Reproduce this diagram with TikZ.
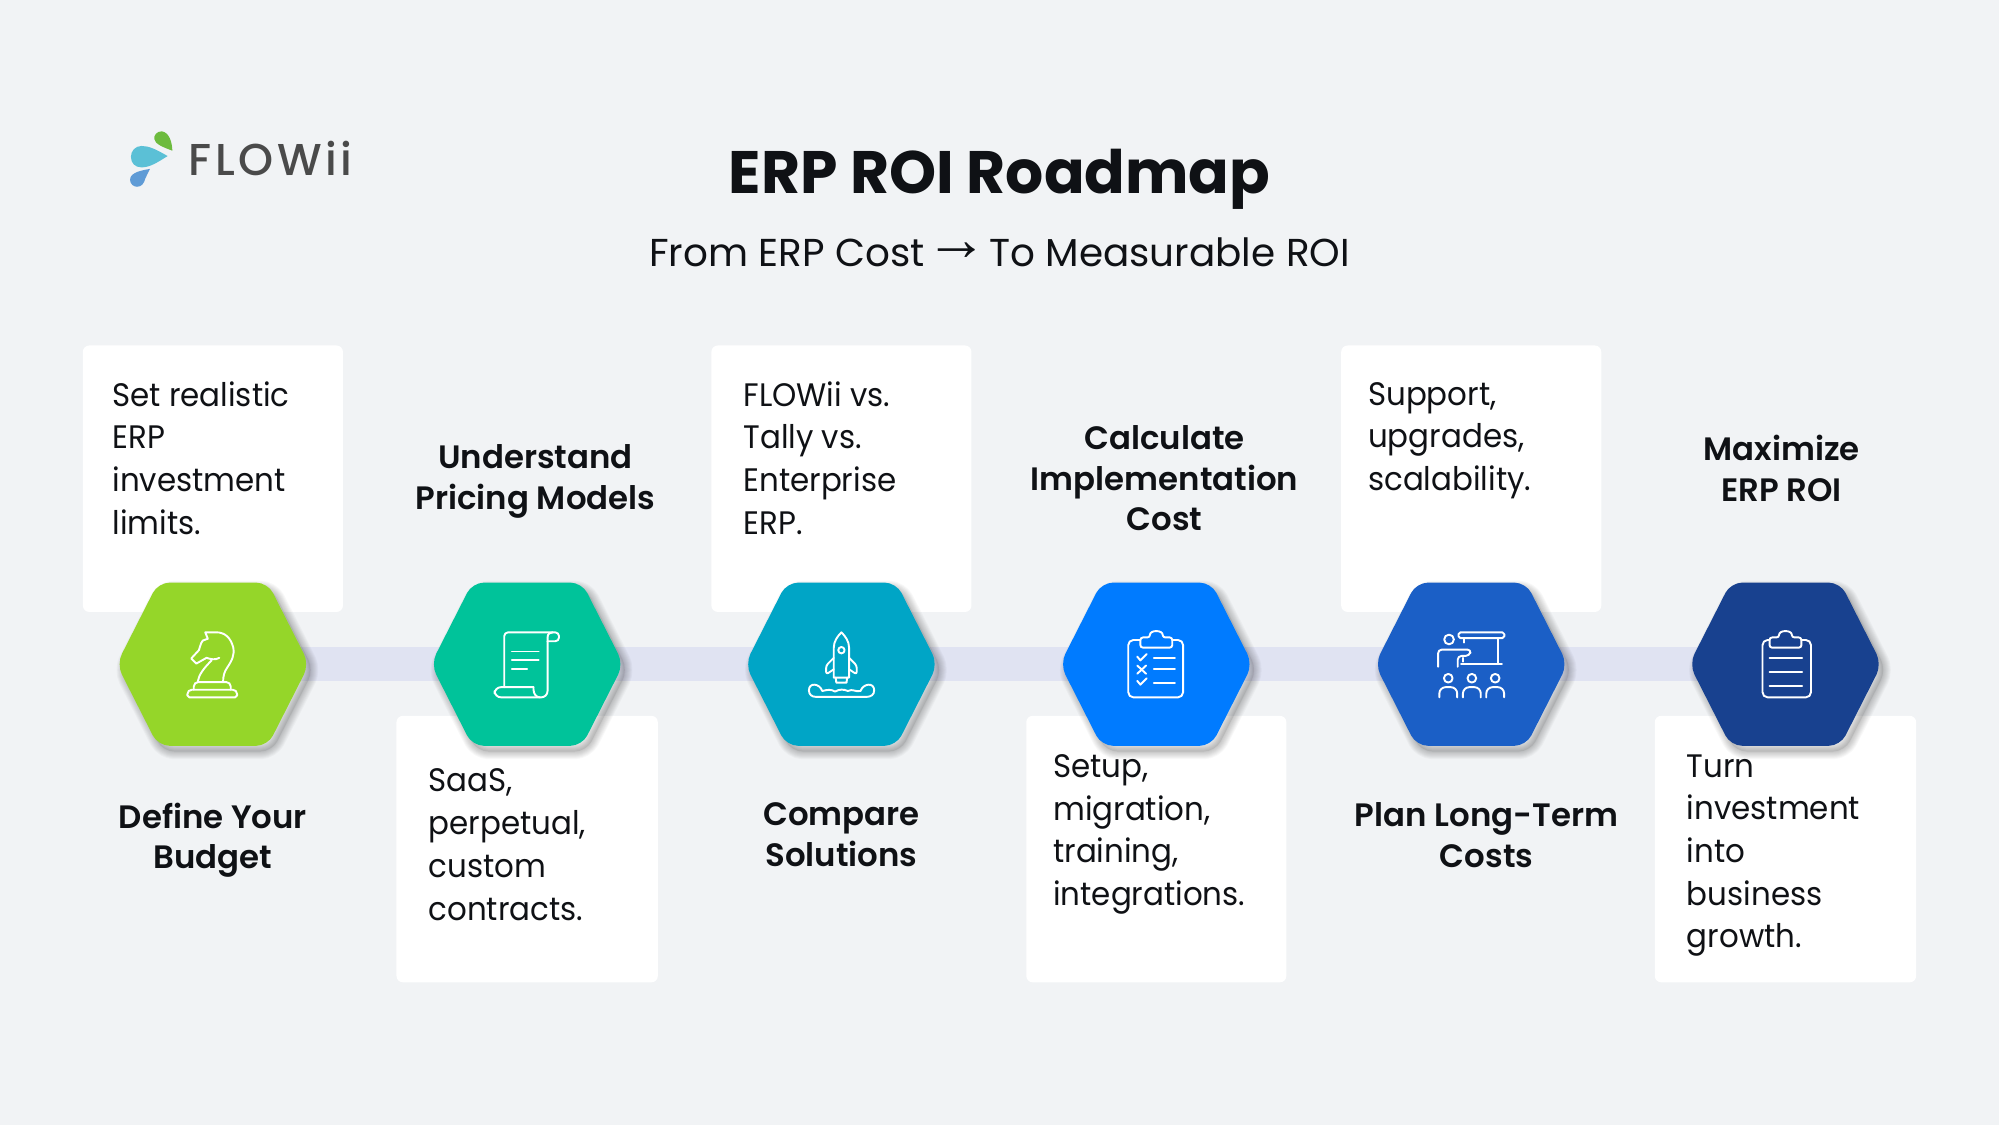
\documentclass[tikz,border=0pt]{standalone}
\usepackage{fontspec}
\setmainfont{Poppins}
\newfontfamily\arrowfont{Liberation Sans}
\newfontfamily\bodyf[FakeStretch=0.95]{Poppins}
\newfontfamily\semib{Poppins SemiBold}
\newfontfamily\logof[LetterSpace=8]{Poppins Medium}
\definecolor{pagebg}{HTML}{F1F3F5}
\definecolor{barc}{HTML}{E0E3F2}
\definecolor{inkc}{HTML}{0F1115}
\definecolor{hexa}{HTML}{95D629}
\definecolor{hexb}{HTML}{00C39A}
\definecolor{hexc}{HTML}{00A5C6}
\definecolor{hexd}{HTML}{007BFF}
\definecolor{hexe}{HTML}{1B5FC6}
\definecolor{hexf}{HTML}{18418F}
\newcommand\hexp{(-43,-64) -- (43,-64) -- (75.5,0) -- (43,64) -- (-43,64) -- (-75.5,0) -- cycle}
\newcommand\clipp{(-12.5,-13) -- (-12.5,-21) -- (-5,-21) .. controls (-5,-27) and (5,-27) .. (5,-21) -- (12.5,-21) -- (12.5,-13) -- cycle}
\tikzset{
  card/.style={fill=white,rounded corners=5pt,draw=none},
  barline/.style={draw=barc,line width=27pt},
  icon/.style={draw=white,line width=1.5pt,line cap=round,line join=round},
  body/.style={anchor=north west,inner sep=0pt,align=left,text=inkc,font=\bodyf\fontsize{25.5}{33.5}\selectfont,execute at begin node=\rule{0pt}{20pt}},
  head/.style={anchor=north,inner sep=0pt,align=center,text=inkc,font=\semib\fontsize{25.4}{32}\selectfont,execute at begin node=\rule{0pt}{20pt}},
  knight/.pic={
    \draw[icon,rounded corners=1.5pt] (-20,26) -- (19,26) -- (19,22) -- (17,20) -- (-18,20) -- (-20,22) -- cycle;
    \draw[icon,rounded corners=1.5pt] (-15,20) -- (-15,16) -- (-13,14) -- (12,14) -- (14,16) -- (14,20);
    \draw[icon] (-12,14) .. controls (-11,8) and (-7,3) .. (-1,-3);
    \draw[icon] (8,14) .. controls (8,9) and (9,6) .. (11,3) .. controls (15,-3) and (17,-7) .. (16,-13) .. controls (14,-21) and (9,-25) .. (3,-25) -- (-6,-25) -- (-4,-20) -- (-8,-18.5) .. controls (-10,-16) and (-10,-13) .. (-11,-11) -- (-17,-4.5) -- (-13,-0.5) -- (-5,-5) .. controls (-2,-4) and (2,-3) .. (5,-5);
  },
  scrollic/.pic={
    \draw[icon,rounded corners=3pt] (-18,18) -- (-18,-25) -- (25,-25) -- (25,-18) -- (16,-18);
    \draw[icon] (16,-18) -- (16,-21) .. controls (16,-24) and (18,-25) .. (20,-25);
    \draw[icon,rounded corners=5pt] (16,-18) -- (16,26) -- (-25.5,26) -- (-25.5,18) -- (5,18);
    \draw[icon] (5,18) -- (5,20) .. controls (5,23) and (7,26) .. (10,26);
    \draw[icon] (-12,-10) -- (9,-10) (-12,-3) -- (9,-3) (-12,3.5) -- (0,3.5);
  },
  rocketic/.pic={
    \draw[icon] (-6,10.5) -- (-6,-13) .. controls (-6,-18) and (-3,-22) .. (0,-25) .. controls (3,-22) and (6,-18) .. (6,-13) -- (6,10.5) -- cycle;
    \draw[icon] (-4.5,10.5) -- (-4,14.5) -- (4,14.5) -- (4.5,10.5);
    \draw[icon] (0,-11) circle (2.5);
    \draw[icon,rounded corners=2pt] (-6,-5) -- (-12,1) -- (-12,8) -- (-6,4);
    \draw[icon,rounded corners=2pt] (6,-5) -- (12,1) -- (12,8) -- (6,4);
    \draw[icon] (-15,21) .. controls (-17,15) and (-25.5,14) .. (-25.5,20.5) .. controls (-25.5,24) and (-23,25.6) .. (-20,25.6) -- (20,25.6) .. controls (23,25.6) and (25.7,24) .. (25.7,20.5) .. controls (25.7,14) and (17,15) .. (15,21) .. controls (11,22) and (9,19) .. (5,21) .. controls (2,19.5) and (-2,19.5) .. (-5,21.5) .. controls (-8,19.5) and (-11,20) .. (-15,21);
  },
  checkic/.pic={
    \draw[icon,rounded corners=4pt] (-12.5,-19) -- (-22,-19) -- (-22,26) -- (21,26) -- (21,-19) -- (12.5,-19);
    \draw[icon,rounded corners=2pt] \clipp;
    \draw[icon] (-2,-5) -- (14.5,-5) (-2,4) -- (14.5,4) (-2,14.5) -- (14.5,14.5);
    \draw[icon] (-15,-6) -- (-12.5,-3) -- (-7.5,-8);
    \draw[icon] (-15,1) -- (-8,7.5) (-8,1) -- (-15,7.5);
    \draw[icon] (-15,13) -- (-12.5,16) -- (-7.5,11);
  },
  teachic/.pic={
    \draw[icon,rounded corners=1.5pt] (-10,-25) -- (26,-25) -- (26,-20.5) -- (-10,-20.5) -- cycle;
    \draw[icon] (21,-20.5) -- (21,-0.5) (-8,-0.5) -- (24,-0.5) (-5.5,-20.5) -- (-5.5,-17);
    \draw[icon] (-17.4,-19.4) circle (3.8);
    \draw[icon,rounded corners=3pt] (-26,2) -- (-26,-11.5) -- (0,-11.5) -- (-1.4,-6.5) -- (-10.6,-6.5) -- (-10.6,2);
    \draw[icon] (-6.5,-5) -- (-6.5,-2);
    \foreach \ax in {-18,0.5,18.8}{
      \draw[icon] (\ax,11) circle (3.4);
      \draw[icon,rounded corners=5pt] (\ax-7,26) -- (\ax-7,18) -- (\ax+7,18) -- (\ax+7,26);
    }
  },
  clipic/.pic={
    \draw[icon,rounded corners=4pt] (-12.5,-19) -- (-18,-19) -- (-18,26) -- (20,26) -- (20,-19) -- (12.5,-19);
    \draw[icon,rounded corners=2pt] \clipp;
    \draw[icon] (-12.5,-5) -- (13,-5) (-12.5,6) -- (13,6) (-12.5,17) -- (13,17);
  }
}
\begin{document}
\begin{tikzpicture}[x=1pt,y=-1pt]
\useasboundingbox (0,0) rectangle (1568,882.4);
\fill[pagebg] (0,0) rectangle (1568,882.4);

% logo
\fill[fill={rgb,255:red,109;green,187;blue,62}] (135.2,118.2) .. controls (135,112) and (133,104) .. (127,103) .. controls (123,103) and (120.6,106) .. (121,109) .. controls (121.5,113) and (128,115.5) .. (135.2,118.2);
\fill[fill={rgb,255:red,91;green,192;blue,214}] (131.5,122.4) .. controls (122,117) and (117,114.5) .. (111,114.5) .. controls (106,114.5) and (102.7,118.5) .. (102.7,123) .. controls (102.7,128) and (106,131.3) .. (111,131.3) .. controls (118,131.3) and (124,127) .. (131.5,122.4);
\fill[fill={rgb,255:red,95;green,155;blue,214}] (117.6,132.5) .. controls (112,133.5) and (102,135) .. (102,141) .. controls (102,144.5) and (105,146.5) .. (107.5,146.5) .. controls (111,146.5) and (113,144) .. (114,140) .. controls (115,137.5) and (116.5,135) .. (117.6,132.5);
\node[anchor=base west,inner sep=0pt,text={rgb,255:red,74;green,74;blue,74},font=\logof\fontsize{35}{36}\selectfont] (logo) at (148,138) {FLOWii};

% titles
\node[anchor=base,inner sep=0pt,text=inkc,font=\bfseries\fontsize{47}{50}\selectfont] (title) at (784,152) {ERP ROI Roadmap};
\node[anchor=base,inner sep=0pt,text=inkc,font=\fontsize{30.5}{32}\selectfont] (subtitle) at (784,209) {From ERP Cost\hspace{1pt}{\arrowfont\fontsize{49}{32}\selectfont\raisebox{5pt}{→}}\hspace{1pt}To Measurable ROI};

% cards
\fill[card] (65,271) rectangle (269,480);
\fill[card] (558,271) rectangle (762,480);
\fill[card] (1052,271) rectangle (1256,480);
\fill[card] (311,561.5) rectangle (516,770.5);
\fill[card] (805,561.5) rectangle (1009,770.5);
\fill[card] (1298,561.5) rectangle (1503,770.5);

% hexagon centres and connecting band
\coordinate (h1) at (167,521);
\coordinate (h2) at (413.5,521);
\coordinate (h3) at (660,521);
\coordinate (h4) at (907,521);
\coordinate (h5) at (1154,521);
\coordinate (h6) at (1400.5,521);
\draw[barline] (h1) -- (h2);
\draw[barline] (h2) -- (h3);
\draw[barline] (h3) -- (h4);
\draw[barline] (h4) -- (h5);
\draw[barline] (h5) -- (h6);

% hexagons with soft shadow
\foreach \nm/\col/\ic in {h1/hexa/knight,h2/hexb/scrollic,h3/hexc/rocketic,h4/hexd/checkic,h5/hexe/teachic,h6/hexf/clipic}{
  \begin{scope}[shift={(\nm)}]
    \begin{scope}[shift={(3.5,4.5)}]
      \foreach \w in {1.5,3,...,12}{
        \draw[black,opacity=0.028,line width=\w pt,line join=round,rounded corners=9pt] \hexp;
      }
      \fill[black,opacity=0.08,rounded corners=9pt] \hexp;
    \end{scope}
    \fill[\col,rounded corners=9pt] \hexp;
    \pic at (0,0) {\ic};
  \end{scope}
}

% body texts
\node[body] (b1) at (88,299) {Set realistic\\ERP\\investment\\limits.};
\node[body] (b2) at (336,603) {SaaS,\\perpetual,\\custom\\contracts.};
\node[body] (b3) at (583,299) {FLOWii vs.\\Tally vs.\\Enterprise\\ERP.};
\node[body] (b4) at (826,591.5) {Setup,\\migration,\\training,\\integrations.};
\node[body] (b5) at (1073,299.5) {Support,\\upgrades,\\scalability.};
\node[body] (b6) at (1323,591.5) {Turn\\investment\\into\\business\\growth.};

% headings
\node[head] (t1) at (167,629.5) {Define Your\\Budget};
\node[head] (t2) at (420,348.5) {Understand\\Pricing Models};
\node[head] (t3) at (660,629.5) {Compare\\Solutions};
\node[head] (t4) at (913.5,333.5) {Calculate\\Implementation\\Cost};
\node[head] (t5) at (1166,629.5) {Plan Long-Term\\Costs};
\node[head] (t6) at (1397.5,341) {Maximize\\ERP ROI};
\end{tikzpicture}
\end{document}
